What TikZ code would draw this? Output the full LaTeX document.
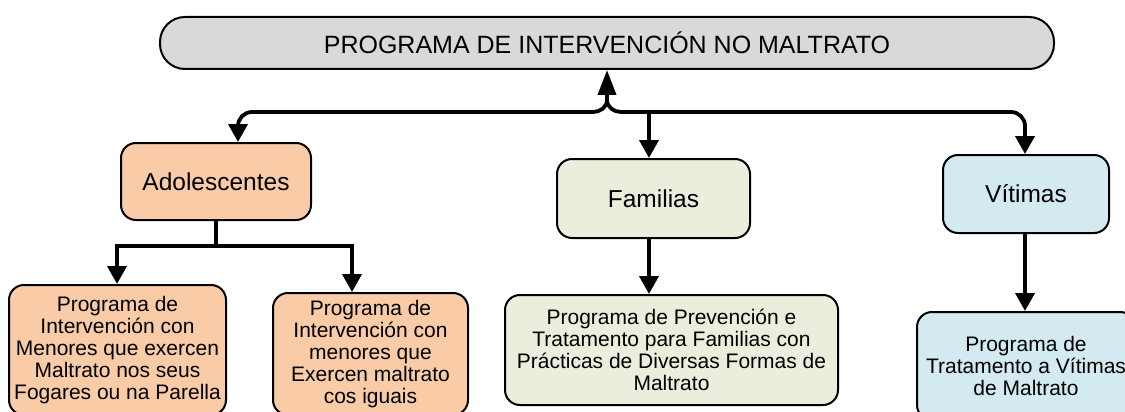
\documentclass[tikz,border=0pt]{standalone}
\usepackage{fontspec}
\setmainfont{Liberation Sans}
\usetikzlibrary{arrows.meta,calc}
\definecolor{topgray}{HTML}{D9D9D9}
\definecolor{peach}{HTML}{F9CBA7}
\definecolor{olivel}{HTML}{EBEEDD}
\definecolor{aqual}{HTML}{D3EAF0}
\begin{document}
\begin{tikzpicture}[x=1pt,y=-1pt,
  box/.style={draw=black, line width=2pt, rounded corners=15pt, align=center, inner sep=0pt},
  lbl/.style={font=\fontsize{24.5}{28}\selectfont},
  sub/.style={font=\fontsize{21}{22}\selectfont},
  conn/.style={line width=3.8pt, draw=black, line join=miter},
  arr/.style={conn, -{Triangle[length=18pt,width=19pt]}},
  uparr/.style={conn, -{Triangle[length=25pt,width=18pt]}},
]
\useasboundingbox (0,0) rectangle (1125,412);
\clip (0,0) rectangle (1125,412);

% nodes
\node[box, fill=topgray, minimum width=894pt, minimum height=52pt, rounded corners=25pt, font=\fontsize{25}{28}\selectfont] (top) at (607,43) {PROGRAMA DE INTERVENCIÓN NO MALTRATO};
\node[box, fill=peach, minimum width=190pt, minimum height=77pt, lbl] (ado) at (216,181.5) {Adolescentes};
\node[box, fill=olivel, minimum width=193pt, minimum height=79pt, lbl] (fam) at (653.5,198.5) {Familias};
\node[box, fill=aqual, minimum width=166pt, minimum height=78pt, lbl] (vit) at (1026,194) {Vítimas};

\node[box, fill=peach, minimum width=217pt, minimum height=130pt, sub] (c1) at (117.5,350) {Programa de\\Intervención con\\Menores que exercen\\Maltrato nos seus\\Fogares ou na Parella};
\node[box, fill=peach, minimum width=195pt, minimum height=122pt, sub] (c2) at (370.5,354) {Programa de\\Intervención con\\menores que\\Exercen maltrato\\cos iguais};
\node[box, fill=olivel, minimum width=333pt, minimum height=110pt, sub] (fc) at (671.5,350) {Programa de Prevención e\\Tratamento para Familias con\\Prácticas de Diversas Formas de\\Maltrato};
\node[box, fill=aqual, minimum width=218pt, minimum height=108pt, sub] (vc) at (1026,366) {Programa de\\Tratamento a Vítimas\\de Maltrato};

% junction coordinates
\coordinate (jt) at (607,100);
\coordinate (ax) at (238,112);
\coordinate (fj) at (649,112);
\coordinate (vx) at (1025,112);
\coordinate (adoj) at (216,246);
\coordinate (la) at (117,246);
\coordinate (ra) at (352,246);

% top connectors
\draw[uparr] (jt) -- (top.south);
\draw[arr] (jt) to[out=-90,in=0] (593,112) -- (252,112) to[out=180,in=90] (238,126) -- (ado.north -| ax);
\draw[arr] (jt) to[out=-90,in=180] (621,112) -- (1011,112) to[out=0,in=90] (1025,126) -- (vit.north -| vx);
\draw[arr] (fj) -- (fam.north -| fj);

% lower connectors
\draw[conn] (ado.south) -- (adoj);
\draw[arr] (adoj) -| (c1.north -| la);
\draw[arr] (adoj) -| (c2.north -| ra);
\draw[arr] (fam.south -| fj) -- (fc.north -| fj);
\draw[arr] (vit.south -| vx) -- (vc.north -| vx);
\end{tikzpicture}
\end{document}
